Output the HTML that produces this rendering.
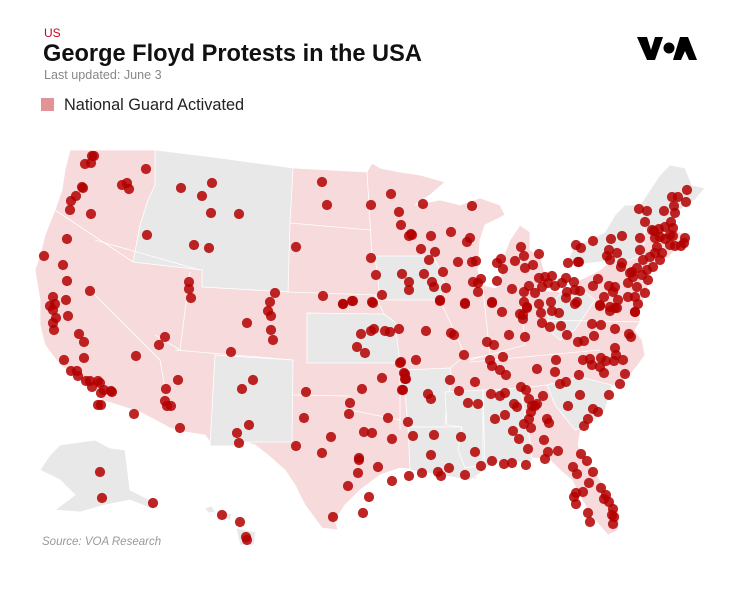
<!DOCTYPE html>
<html><head><meta charset="utf-8"><style>
body{margin:0;background:#fff;width:737px;height:587px;overflow:hidden;font-family:"Liberation Sans",sans-serif}
</style></head><body>
<svg width="737" height="587" viewBox="0 0 737 587" xmlns="http://www.w3.org/2000/svg" font-family="Liberation Sans, sans-serif">
<text x="44" y="37" font-size="12" fill="#d0021b">US</text>
<text x="43" y="61" font-size="23.6" font-weight="bold" fill="#111">George Floyd Protests in the USA</text>
<text x="44" y="79" font-size="12.6" fill="#888">Last updated: June 3</text>
<rect x="41" y="98" width="13" height="13" fill="#e29396"/>
<text x="64" y="110" font-size="16.3" fill="#222">National Guard Activated</text>
<g fill="#000"><polygon points="637,37 647,37 651,50 655,37 663,37 655,60 647,60"/><circle cx="669" cy="48" r="5.5"/><polygon points="680,37 688,37 697,60 689,60 685,51 681,60 673,60"/></g>
<g stroke="#fff" stroke-width="0.8">
<polygon fill="#f7dadb" points="70,150 155,150 220,158 293,168 367,172 372,163 380,168 400,172 420,175 445,182 430,195 415,205 440,200 460,205 480,198 500,205 505,215 485,225 480,240 478,270 482,285 495,288 500,285 502,260 510,240 520,225 530,232 530,250 540,255 545,275 540,290 560,292 580,280 600,270 610,262 628,255 640,240 645,215 655,195 665,180 672,165 685,170 692,185 705,188 695,200 680,210 672,225 680,232 690,238 688,248 675,250 668,258 655,262 648,268 650,280 645,295 640,310 640,322 635,330 642,340 645,355 638,365 630,375 615,385 598,395 590,405 582,420 578,445 585,460 600,480 612,500 620,515 618,530 608,535 595,520 582,500 572,480 560,470 550,460 535,458 515,458 500,462 480,470 475,480 465,470 455,470 440,472 420,470 400,468 380,475 360,490 345,505 335,520 338,530 322,528 305,505 295,485 285,470 268,455 255,445 240,440 210,442 205,435 185,432 170,428 140,412 102,400 98,390 80,380 60,365 45,345 40,325 40,300 35,270 40,255 45,235 55,210 62,190 65,170"/>
<g fill="#e8e8e8">
<polygon points="155,150 220,158 293,168 290,223 288,292 202,287 202,270 133,262 140,225 148,200 155,185"/>
<polygon points="215,355 293,360 292,442 245,442 240,446 210,446"/>
<polygon points="307,313 384,314 395,322 400,363 307,363"/>
<polygon points="375,256 433,256 440,270 445,285 438,300 380,300 378,280"/>
<polygon points="403,370 450,368 452,380 447,400 445,427 408,427"/>
<polygon points="408,427 462,427 458,450 478,452 485,470 470,480 440,475 410,470"/>
<polygon points="445,392 483,390 483,465 465,468 458,450 462,427 447,425"/>
<polygon points="483,390 520,388 530,440 532,462 500,462 485,468"/>
<polygon points="547,385 580,377 612,385 605,410 590,425 575,430 555,405"/>
<polygon points="548,305 565,290 580,288 595,300 585,315 575,330 560,340 548,330"/>
<polygon points="567,262 575,245 590,240 605,232 615,215 625,205 640,205 645,230 643,255 630,260 600,262 575,265"/>
<polygon points="640,205 650,190 660,175 670,165 685,168 692,185 705,188 695,200 680,210 672,225 668,232 645,232"/>
<polygon points="60,445 95,440 110,448 125,450 130,490 150,500 155,510 130,500 105,505 80,512 55,510 75,495 60,480 40,470 50,455"/>
<polygon points="205,508 212,506 215,512 208,513"/><polygon points="222,512 232,514 230,520 222,518"/><polygon points="236,528 256,532 254,545 240,545"/>
</g>
<g fill="none"><polyline points="133,262 55,210"/><polyline points="100,400 170,428"/><polyline points="90,290 160,360 165,388"/><polyline points="95,240 200,270"/><polyline points="190,272 180,350 155,335"/><polyline points="175,350 293,360"/><polyline points="290,223 370,230"/><polyline points="288,292 375,295 384,314"/><polyline points="367,172 372,256"/><polyline points="400,363 400,430"/><polyline points="293,395 350,396 350,410 400,420"/><polyline points="440,300 465,355"/><polyline points="483,290 490,355 460,360 450,368"/><polyline points="520,290 525,345 470,360"/><polyline points="470,362 600,350"/><polyline points="520,388 547,385"/><polyline points="540,320 645,322"/><polyline points="560,292 575,265"/></g>
</g>
<g id="d" fill="#b30000" fill-opacity="0.85"></g>
<text x="42" y="545" font-size="11.5" font-style="italic" fill="#999">Source: VOA Research</text>
</svg>
<script>
var p=[92,156,94,156,85,164,91,163,146,169,82,187,83,188,122,185,127,183,129,189,76,196,71,201,70,210,91,214,181,188,212,183,202,196,211,213,239,214,322,182,327,205,371,205,391,194,399,212,401,225,409,236,67,239,147,235,194,245,209,248,296,247,371,258,376,275,402,274,409,282,44,256,63,265,67,281,90,291,53,297,66,300,50,306,55,304,53,310,56,318,68,316,53,323,54,330,79,334,84,342,84,358,64,360,71,371,77,371,78,376,86,381,90,381,92,387,98,381,100,383,101,393,104,390,111,391,112,392,98,405,101,405,134,414,136,356,159,345,165,337,189,282,189,289,191,298,178,380,166,389,165,401,167,406,171,406,180,428,253,380,242,389,249,425,237,433,239,443,275,293,270,302,268,311,271,316,247,323,271,330,273,340,231,352,323,296,343,304,352,301,372,302,382,295,361,334,371,331,374,329,385,331,390,332,399,329,357,347,365,353,400,363,404,373,405,379,403,390,382,378,362,389,350,403,349,414,388,418,364,432,372,433,392,439,331,437,306,392,304,418,296,446,322,453,359,458,359,460,358,473,378,467,348,486,369,497,363,513,333,517,392,481,408,422,413,436,434,435,431,455,409,476,422,473,438,472,441,476,449,468,465,475,461,437,475,452,481,466,492,461,504,464,512,463,526,465,528,449,519,439,513,431,524,424,531,428,495,419,505,415,491,394,500,396,505,393,514,404,517,407,529,399,532,406,531,412,529,419,535,406,537,404,543,396,521,387,526,390,547,419,549,423,544,440,548,452,545,459,558,451,568,406,580,395,593,409,598,412,588,419,584,426,609,395,581,454,587,461,573,467,577,474,593,472,589,483,583,492,576,493,574,497,576,504,601,488,606,495,604,499,609,502,613,509,614,517,613,524,612,515,588,513,590,522,450,380,459,391,475,382,468,403,478,404,428,394,431,399,402,390,405,374,406,379,401,362,416,360,426,331,451,333,454,335,464,355,487,342,494,345,509,335,525,337,490,360,492,366,503,357,500,370,506,375,537,369,556,360,555,372,560,384,566,382,579,375,583,360,590,359,592,365,601,358,600,367,606,361,604,373,614,361,616,355,623,360,625,374,620,384,615,348,629,334,631,337,615,329,594,336,584,341,578,342,592,324,601,325,567,335,561,326,550,327,542,323,559,313,552,311,541,313,539,304,523,315,523,319,527,308,520,314,502,312,492,303,465,303,440,301,373,303,353,301,343,304,600,305,610,311,617,308,635,312,423,204,411,234,412,235,431,236,451,232,472,206,421,249,435,252,429,260,458,262,470,238,467,242,472,262,476,261,424,274,443,272,409,290,432,282,434,287,446,288,440,300,465,304,473,282,481,279,478,292,478,283,497,281,492,302,512,289,497,263,501,259,503,269,515,261,521,247,524,256,539,254,525,268,533,265,524,292,524,302,527,307,529,286,539,278,545,277,552,276,535,293,542,287,548,283,555,286,562,283,566,278,568,263,578,262,574,282,575,290,580,291,567,292,566,298,551,302,575,304,577,302,576,245,581,248,579,262,593,241,611,239,622,236,609,250,617,253,607,256,610,260,622,263,621,267,598,279,593,286,609,286,615,287,604,297,613,292,618,300,600,306,610,307,615,308,628,283,630,273,637,287,637,268,642,275,647,270,650,257,655,253,657,247,660,260,648,280,645,293,635,297,638,304,635,312,628,297,640,238,655,238,654,231,659,229,665,227,671,222,673,228,665,239,670,235,673,236,685,238,684,243,681,246,675,246,670,245,645,222,639,209,647,211,664,211,674,206,675,213,672,197,678,197,687,190,686,202,640,250,643,260,653,267,632,272,633,277,662,253,652,230,660,237,100,472,102,498,153,503,222,515,240,522,246,537,247,540];
var g=document.getElementById('d'),s='';
for(var i=0;i<p.length;i+=2)s+='<circle cx="'+p[i]+'" cy="'+p[i+1]+'" r="5.1"/>';
g.innerHTML=s;
</script>
</body></html>
